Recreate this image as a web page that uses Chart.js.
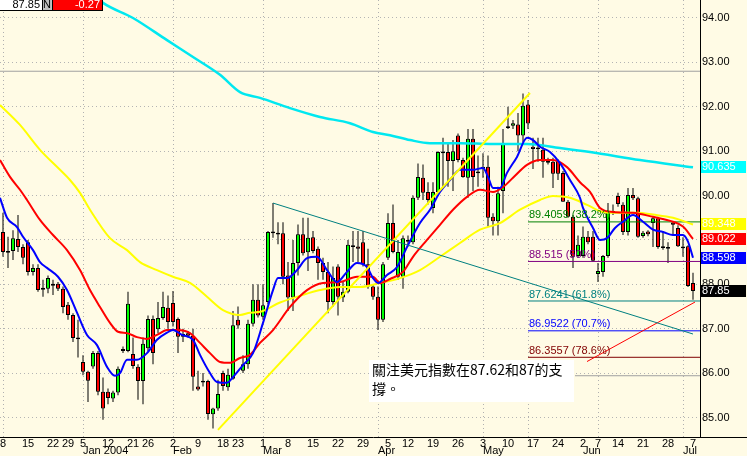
<!DOCTYPE html>
<html>
<head>
<meta charset="utf-8">
<script src="https://cdn.jsdelivr.net/npm/chart.js@4.4.1/dist/chart.umd.min.js"></script>
<style>
html, body { margin: 0; padding: 0; background: #fffbe5; }
canvas { display: block; }
</style>
</head>
<body>
<canvas id="chart" width="747" height="456"></canvas>
<script>
// one entry per trading day, starting Mon 8 Dec 2003
const opens  = [89.18,88.75,88.75,89.02,88.84,88.95,88.28,88.37,87.88,87.90,88.01,88.01,87.90,87.54,87.31,86.80,86.25,86.03,86.15,86.45,
                85.58,85.58,85.43,85.56,86.54,86.50,86.43,86.14,85.82,86.56,87.22,86.99,87.24,87.47,87.58,87.22,86.82,86.90,86.84,85.70,
                85.83,85.82,85.07,85.20,86.00,85.68,85.87,87.20,86.05,86.20,87.11,87.65,87.27,87.60,89.19,89.16,89.15,88.20,87.70,88.48,
                89.13,88.72,89.06,88.80,88.48,88.28,87.60,88.40,87.70,87.83,88.88,88.85,88.95,88.45,87.95,87.72,87.20,88.60,89.38,88.17,
                88.17,88.96,88.95,89.95,90.40,90.08,89.72,90.08,90.99,90.98,90.78,91.35,90.80,90.40,91.28,90.54,90.60,90.65,89.52,89.42,
                90.10,91.56,91.57,91.60,91.35,92.05,91.10,91.08,91.03,90.78,90.76,90.78,90.51,89.86,89.52,88.64,88.64,89.07,89.07,88.23,
                88.28,88.64,89.65,89.99,89.79,89.18,90.01,89.94,89.09,89.19,89.38,89.49,88.86,88.84,89.39,89.27,88.85,88.86,88.03];
const highs  = [89.61,89.07,89.22,89.56,88.90,89.00,88.45,88.45,88.10,88.20,88.10,88.05,87.95,87.60,87.35,87.20,86.40,86.05,86.50,86.50,
                85.90,85.65,85.60,86.15,86.60,87.83,86.80,86.20,86.80,87.30,87.30,87.60,87.83,87.75,87.85,87.25,87.00,86.95,87.00,86.05,
                86.00,85.85,85.22,85.85,86.05,86.10,87.40,87.50,86.40,87.20,88.00,88.00,88.00,89.20,89.83,89.40,89.40,88.50,89.00,89.35,
                89.50,89.50,89.20,88.85,88.60,88.50,88.40,88.45,88.05,89.00,89.20,89.20,89.20,88.80,88.00,87.95,88.50,89.60,89.80,89.00,
                89.10,89.10,90.00,90.72,90.70,90.30,90.30,91.00,91.30,91.20,91.25,91.40,90.85,91.50,91.50,90.90,90.95,90.90,89.60,90.20,
                91.50,92.00,91.70,91.86,92.30,92.15,91.30,91.30,91.30,90.85,90.85,90.82,90.55,89.90,89.56,89.10,89.30,89.20,89.20,88.48,
                88.66,89.83,89.80,90.06,89.85,90.17,90.17,89.97,89.20,89.22,89.52,89.52,89.20,88.95,89.40,89.33,89.06,88.88,88.26];
const lows   = [88.62,88.37,88.55,88.73,88.45,88.20,88.20,87.83,87.72,87.80,87.76,87.85,87.35,87.20,86.70,86.35,85.95,85.35,86.10,85.50,
                84.95,85.30,85.35,85.50,86.45,86.47,86.10,85.40,85.30,86.50,86.20,86.90,87.20,87.00,87.05,86.45,86.70,86.80,85.60,85.60,
                85.70,84.95,84.75,85.15,85.60,85.60,85.85,87.00,86.00,86.10,87.05,87.25,87.20,87.55,89.05,88.90,88.00,87.40,87.40,88.20,
                88.65,88.30,88.70,88.10,88.10,87.35,87.50,87.30,87.60,87.80,88.50,88.50,88.40,87.90,87.65,86.97,87.15,88.55,88.70,88.10,
                87.90,88.85,88.90,89.90,89.90,89.80,89.60,90.05,90.20,90.20,90.10,90.75,90.40,89.95,90.10,90.20,90.40,89.30,89.10,89.10,
                89.60,91.50,91.50,91.00,91.20,91.50,90.60,90.76,90.40,90.70,90.17,90.35,89.86,89.50,88.37,88.60,88.60,88.90,88.50,88.05,
                88.17,88.60,89.56,89.75,89.11,89.10,89.90,89.05,89.05,89.08,88.84,88.80,88.78,88.48,89.10,88.84,88.62,87.94,87.65];
const closes = [88.73,88.71,89.04,88.84,88.60,88.28,88.37,87.87,87.92,88.14,87.97,87.90,87.49,87.31,86.79,86.76,86.03,85.83,86.45,85.58,
                85.20,85.44,85.56,86.10,86.50,87.56,86.16,85.82,86.66,87.22,86.45,87.24,87.49,87.15,87.15,86.82,86.88,86.84,85.92,85.63,
                85.79,85.08,85.20,85.53,85.71,85.96,87.08,87.07,86.20,87.11,87.65,87.30,87.53,89.18,89.15,89.12,88.17,87.70,88.48,89.13,
                88.70,89.05,88.75,88.48,88.28,87.60,88.14,87.72,87.83,88.89,88.84,88.80,88.45,87.95,87.72,87.20,88.45,89.38,88.73,88.73,
                89.04,89.00,89.95,90.42,90.06,89.90,90.08,90.98,90.95,90.78,91.00,90.80,90.42,91.28,90.42,90.50,90.65,89.50,89.42,90.05,
                91.16,91.52,91.63,91.35,92.02,91.62,91.05,91.04,90.76,90.74,90.49,90.49,89.86,89.52,88.62,88.89,89.07,88.95,88.53,88.30,
                88.64,89.63,89.61,89.81,89.18,90.01,89.94,89.07,89.16,89.13,89.49,88.84,88.82,88.80,89.34,88.86,88.81,87.96,87.85];
const priceChange = -0.27;

// moving averages: trading-day index and value
const fastAvgIdx = [-0.6,0.8,2.8,4,6,7.4,8.8,11,12.8,14.8,16.8,18.8,20.8,22.4,23.4,24.8,26.8,28.8,30.8,32.8,34,35.8,38,39.4,41.4,42.8,44.8,46,48,50,
                    52,54,55,56.8,58.8,60.8,62.8,64.8,66.8,68.8,70.8,72.8,74,75,76.8,78.8,80.8,83.4,85.4,87.4,89.4,91.4,94,96,97,98,99.4,100.8,102.8,104.8,
                    106,107.4,109.4,111.4,113.4,115.4,116,118,119.4,120.8,122.4,124,126,128,130,132,134,136,137,138];
const fastAvgVal = [89.95,89.50,89.29,89.07,88.77,88.50,88.37,88.17,87.87,87.36,86.86,86.63,86.14,85.94,86.00,86.30,86.30,86.45,86.75,86.91,86.97,86.86,86.75,86.41,86.00,85.80,85.78,85.91,86.18,86.45,
                    87.13,87.87,88.14,88.14,88.32,88.59,88.62,88.32,88.05,88.28,88.48,88.39,88.14,88.03,88.21,88.39,88.84,89.38,89.68,90.08,90.35,90.58,90.58,90.62,90.42,90.17,90.17,90.51,90.87,91.30,
                    91.25,91.10,90.98,90.73,90.35,89.95,89.72,89.27,89.00,89.04,89.27,89.41,89.56,89.41,89.23,89.18,89.11,89.11,88.96,88.598];
const midAvgIdx  = [-0.6,1.4,3.4,4.8,7.4,10,12.8,15.4,17.4,19.4,21.4,23,24.8,26.8,28.8,30.8,32.8,34.8,37.4,39.4,41.4,43.4,45.4,47.4,49.4,51.4,54,57.4,60.8,64,
                    67.4,70.8,74,75.4,77.4,80,82,84.8,87.4,90,92.8,95.4,98,100,102,104.8,107.4,110,112.8,115.4,117.4,119.4,122,126,130,134,136,138];
const midAvgVal  = [90.80,90.42,90.13,89.90,89.45,89.11,88.77,88.32,87.87,87.49,87.13,86.93,86.90,86.81,86.77,86.86,86.97,86.97,86.90,86.68,86.45,86.25,86.23,86.34,86.41,86.68,86.97,87.49,87.87,88.03,
                    88.05,88.17,88.17,88.03,88.12,88.28,88.62,89.00,89.34,89.68,89.97,90.13,90.08,90.19,90.40,90.69,90.80,90.80,90.64,90.30,90.08,89.72,89.63,89.61,89.52,89.41,89.30,89.022];
const slowAvgIdx = [-0.6,3.4,7.4,11.4,13.4,15.4,17.4,21.4,24.8,27.4,30.8,34,37.4,40.8,44,47.4,49.4,51.4,55.4,59.4,63.4,67.4,71.4,75.4,79.4,83.4,87.4,91.4,95.4,99.4,
                    103.4,107.4,110,113.4,116.8,120,123.4,126.8,130,134,138];
const slowAvgVal = [92.04,91.59,91.03,90.58,90.35,90.06,89.68,89.04,88.77,88.50,88.32,88.17,88.03,87.72,87.42,87.31,87.36,87.38,87.59,87.74,87.87,87.94,87.94,88.03,88.14,88.32,88.62,88.93,89.23,89.38,
                    89.68,89.90,89.99,89.95,89.79,89.63,89.61,89.61,89.57,89.50,89.348];
const longAvgIdx = [18.6,20,26,32.8,38,43.4,47.4,51.4,57.4,63.4,69.4,74,77.4,81.4,85.4,91.4,98,104.8,111.4,117.4,127.4,138];
const longAvgVal = [94.48,94.34,94.00,93.50,93.12,92.72,92.33,92.20,91.97,91.77,91.63,91.43,91.36,91.25,91.18,91.18,91.16,91.16,91.07,90.98,90.80,90.635];

// drawn lines
const fallLineIdx = [54, 138],   fallLineVal = [89.83, 86.88];
const riseLineIdx = [43, 105.4], riseLineVal = [84.72, 92.31];
const redLineIdx  = [116.8, 138.4], redLineVal = [86.26, 87.60];
const fibStartIdx = 105;
const fibLevels = [89.4059, 88.515, 87.6241, 86.9522, 86.3557];
const fibRatios = ['38.2%', '50%', '61.8%', '70.7%', '78.6%'];
const refLevels = [92.8, 85.94];
const refStartIdx = [-0.6, 114.4];

// axes
const yTicks = [85, 86, 87, 88, 89, 90, 91, 92, 93, 94];
const dayTickIdx  = [0,5,10,13,16,21,26,29,34,39,44,47,52,57,62,67,72,77,81,86,91,96,101,106,111,116,119,123,128,133,138];
const dayTickText = ['8','15','22','29','5','12','21','26','2','9','18','23','1','8','15','22','29','5','12','19','26','3','10','17','24','2','7','14','21','28','7'];
const monthIdx  = [16, 34, 52, 75, 96, 116, 136];
const monthText = ['Jan 2004', 'Feb', 'Mar', 'Apr', 'May', 'Jun', 'Jul'];
const vGridIdx = [0, 16, 34, 52, 75, 96, 105, 119, 136];

const noteLines = ['關注美元指數在87.62和87的支', '撐。'];

const xMin = -0.6, xMax = 139.4;
const fibColors = ['#008000', '#800080', '#008080', '#0000ff', '#800000'];
const axisFont = '11px "Liberation Sans Narrow", "Liberation Sans", Arial, sans-serif';

const idx = opens.map((_, i) => i);
const bodyColors = idx.map(i => {
  const d = closes[i] - opens[i];
  return Math.abs(d) <= 0.045 ? '#000000' : (d > 0 ? '#00ff00' : '#ff0000');
});

function pts(xs, ys) { return xs.map((x, k) => ({x: x, y: ys[k]})); }
function lineSet(data, color, width, order) {
  return {type: 'line', data: data, borderColor: color, borderWidth: width, pointRadius: 0,
          cubicInterpolationMode: 'monotone', fill: false, order: order};
}

const datasets = [
  {type: 'bar', data: idx.map(i => ({x: i, y: [lows[i], highs[i]]})), backgroundColor: '#000000',
   borderWidth: 0, barThickness: 1, grouped: false, inflateAmount: 0, order: 9},
  {type: 'bar', data: idx.map(i => ({x: i, y: [opens[i], closes[i]]})), backgroundColor: bodyColors,
   borderColor: '#000000', borderWidth: 1, borderSkipped: false, barThickness: 4, grouped: false, inflateAmount: 0, order: 8},
  lineSet(pts(longAvgIdx, longAvgVal), '#00e8f0', 2.5, 5),
  lineSet(pts(slowAvgIdx, slowAvgVal), '#ffff00', 2, 4),
  lineSet(pts(midAvgIdx, midAvgVal), '#ff0000', 2, 3),
  lineSet(pts(fastAvgIdx, fastAvgVal), '#0000ff', 2, 2),
  lineSet(pts(fallLineIdx, fallLineVal), '#008080', 1, 1),
  lineSet(pts(riseLineIdx, riseLineVal), '#ffff00', 2, 1),
  lineSet(pts(redLineIdx, redLineVal), '#ff0000', 1, 1)
];
fibLevels.forEach((lv, k) => datasets.push(lineSet([{x: fibStartIdx, y: lv}, {x: xMax, y: lv}], fibColors[k], 1, 6)));
refLevels.forEach((lv, k) => datasets.push(lineSet([{x: refStartIdx[k], y: lv}, {x: xMax, y: lv}], '#a0a0a0', 1, 7)));

const decor = {
  id: 'decor',
  beforeDraw(chart) {
    const ctx = chart.ctx;
    ctx.save();
    ctx.fillStyle = '#fffbe5';
    ctx.fillRect(0, 0, chart.width, chart.height);
    ctx.restore();
  },
  beforeDatasetsDraw(chart) {
    const {ctx, chartArea: a, scales: {x}} = chart;
    ctx.save();
    ctx.strokeStyle = '#b0b0b0';
    ctx.lineWidth = 1;
    ctx.setLineDash([1, 3]);
    vGridIdx.forEach(v => {
      const px = Math.round(x.getPixelForValue(v)) + 0.5;
      ctx.beginPath(); ctx.moveTo(px, a.top); ctx.lineTo(px, a.bottom); ctx.stroke();
    });
    ctx.restore();
  },
  afterDatasetsDraw(chart) {
    const {ctx, scales: {x, y}} = chart;
    ctx.save();
    ctx.font = axisFont;
    ctx.textAlign = 'left';
    ctx.textBaseline = 'bottom';
    fibLevels.forEach((lv, k) => {
      ctx.fillStyle = fibColors[k];
      ctx.fillText(lv + ' (' + fibRatios[k] + ')', x.getPixelForValue(fibStartIdx) + 1, y.getPixelForValue(lv) - 1);
    });
    // note box
    ctx.fillStyle = '#ffffff';
    ctx.fillRect(369, 360, 205, 42);
    ctx.fillStyle = '#000000';
    ctx.font = '14px "Noto Sans CJK TC", sans-serif';
    ctx.textBaseline = 'middle';
    ctx.fillText(noteLines[0], 372, 370);
    ctx.fillText(noteLines[1], 372, 389);
    ctx.restore();
  },
  afterDraw(chart) {
    const {ctx, chartArea: a, scales: {x, y}} = chart;
    ctx.save();
    // axis lines
    ctx.strokeStyle = '#000000';
    ctx.lineWidth = 1;
    ctx.beginPath();
    ctx.moveTo(a.right + 0.5, 0); ctx.lineTo(a.right + 0.5, a.bottom);
    ctx.moveTo(0, a.bottom + 0.5); ctx.lineTo(chart.width, a.bottom + 0.5);
    ctx.stroke();
    // date labels
    ctx.font = axisFont;
    ctx.fillStyle = '#000000';
    ctx.textBaseline = 'middle';
    ctx.textAlign = 'center';
    dayTickIdx.forEach((v, k) => ctx.fillText(dayTickText[k], x.getPixelForValue(v), a.bottom + 7));
    ctx.textAlign = 'left';
    monthIdx.forEach((v, k) => ctx.fillText(monthText[k], x.getPixelForValue(v), a.bottom + 14));
    // last-value boxes on the price axis
    const boxes = [
      [longAvgVal[longAvgVal.length - 1], '#00ffff', 3],
      [slowAvgVal[slowAvgVal.length - 1], '#ffff00', 3],
      [midAvgVal[midAvgVal.length - 1], '#ff0000', 3],
      [fastAvgVal[fastAvgVal.length - 1], '#0000ff', 3],
      [closes[closes.length - 1], '#000000', 2]
    ];
    boxes.forEach(b => {
      const py = Math.round(y.getPixelForValue(b[0]));
      ctx.fillStyle = b[1];
      ctx.fillRect(a.right + 1, py - 6, 45, 12);
      ctx.fillStyle = '#ffffff';
      ctx.fillText(b[0].toFixed(b[2]), a.right + 2, py);
    });
    // header
    ctx.fillStyle = '#ffffff'; ctx.fillRect(0, 0, 42, 10);
    ctx.fillStyle = '#c0c0c0'; ctx.fillRect(42, 0, 10, 10);
    ctx.fillStyle = '#ff0000'; ctx.fillRect(52, 0, 51, 10);
    ctx.strokeStyle = '#000000';
    ctx.strokeRect(-0.5, -0.5, 103, 11);
    ctx.beginPath(); ctx.moveTo(42.5, 0); ctx.lineTo(42.5, 10); ctx.moveTo(52.5, 0); ctx.lineTo(52.5, 10); ctx.stroke();
    ctx.textBaseline = 'alphabetic';
    ctx.textAlign = 'right';
    ctx.fillStyle = '#000000';
    ctx.fillText(closes[closes.length - 1].toFixed(2), 40, 8);
    ctx.textAlign = 'left';
    ctx.fillText('N', 43, 8);
    ctx.textAlign = 'right';
    ctx.fillStyle = '#ffffff';
    ctx.fillText(priceChange.toFixed(2), 100, 8);
    ctx.restore();
  }
};

new Chart(document.getElementById('chart'), {
  type: 'bar',
  data: {datasets: datasets},
  options: {
    responsive: false,
    animation: false,
    devicePixelRatio: 1,
    layout: {padding: {left: 0, right: 0, top: 0, bottom: 19}},
    plugins: {legend: {display: false}, tooltip: {enabled: false}},
    scales: {
      x: {type: 'linear', min: xMin, max: xMax, offset: false, display: false},
      y: {
        position: 'right',
        min: 84.56,
        max: 94.405,
        afterBuildTicks: s => { s.ticks = yTicks.map(v => ({value: v})); },
        afterFit: s => { s.width = 47; s.paddingTop = 0; s.paddingBottom = 0; },
        grid: {color: '#b4b4b4', lineWidth: 1, drawTicks: false},
        border: {display: false, dash: [1, 3]},
        ticks: {
          callback: v => v.toFixed(2),
          color: '#000000',
          padding: 2,
          font: {family: '"Liberation Sans Narrow", "Liberation Sans", Arial, sans-serif', size: 11}
        }
      }
    }
  },
  plugins: [decor]
});
</script>
</body>
</html>
